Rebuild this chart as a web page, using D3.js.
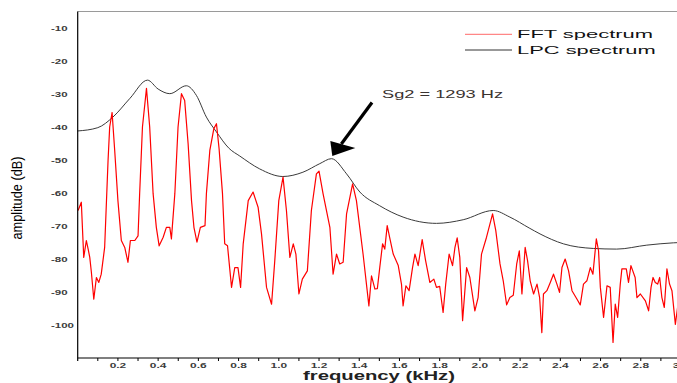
<!DOCTYPE html>
<html>
<head>
<meta charset="utf-8">
<script src="https://cdn.jsdelivr.net/npm/d3@7/dist/d3.min.js"></script>
<style>
  html, body { margin: 0; padding: 0; background: #fff; }
  svg { display: block; }
  text { font-family: "Liberation Sans", Arial, sans-serif; }
</style>
</head>
<body>
<svg id="chart" width="677" height="383"></svg>
<script>
// ---- data ----
const fftFreq = [0.002,0.018,0.03,0.043,0.052,0.06,0.068,0.08,0.093,0.105,0.117,0.134,0.151,0.159,0.171,0.184,0.2,0.217,0.234,0.25,0.262,0.284,0.3,0.308,0.322,0.342,0.358,0.375,0.391,0.405,0.425,0.441,0.458,0.466,0.483,0.499,0.516,0.532,0.549,0.566,0.578,0.593,0.61,0.633,0.64,0.657,0.677,0.69,0.703,0.72,0.731,0.745,0.765,0.781,0.797,0.81,0.823,0.848,0.872,0.897,0.914,0.939,0.964,0.98,1.0,1.021,1.038,1.055,1.072,1.085,1.1,1.117,1.142,1.162,1.187,1.2,1.22,1.254,1.27,1.287,1.303,1.32,1.337,1.367,1.386,1.419,1.448,1.461,1.478,1.49,1.502,1.516,1.527,1.539,1.553,1.569,1.594,1.61,1.618,1.632,1.648,1.665,1.677,1.693,1.713,1.73,1.751,1.771,1.784,1.8,1.817,1.83,1.847,1.864,1.876,1.887,1.9,1.914,1.934,1.95,1.975,1.991,2.008,2.033,2.063,2.079,2.1,2.116,2.133,2.149,2.166,2.183,2.196,2.209,2.225,2.237,2.25,2.267,2.284,2.297,2.308,2.316,2.333,2.35,2.366,2.383,2.396,2.408,2.424,2.441,2.458,2.483,2.499,2.515,2.532,2.549,2.562,2.579,2.59,2.599,2.615,2.632,2.648,2.662,2.673,2.685,2.698,2.706,2.728,2.739,2.751,2.772,2.781,2.798,2.823,2.839,2.851,2.861,2.872,2.884,2.894,2.905,2.917,2.93,2.943,2.955,2.972,2.985];
const fftDb = [-65.3,-62.8,-79.5,-74.4,-77,-79.5,-84,-92.2,-85.6,-87.1,-84.6,-76.5,-50.1,-40,-35.6,-47.1,-62.3,-74.4,-76.5,-81,-74.4,-74.4,-73,-60.2,-40,-28.3,-40,-60.2,-70.4,-76,-73.4,-70.4,-70.4,-73.9,-60.2,-40,-29.9,-32,-45,-62.3,-70.4,-74.9,-70.4,-69.9,-60.2,-47.1,-40.5,-39,-46.5,-60.2,-75.4,-76,-88.6,-82.6,-82.6,-88.6,-75.4,-62.3,-59.7,-64.3,-72.4,-88.6,-93.7,-80.5,-62.3,-55.2,-65.3,-79.5,-75.4,-78.5,-90.6,-86.1,-83.6,-65.3,-54.2,-53.4,-60.2,-70.4,-84.6,-78.5,-81.5,-81,-66.3,-57.2,-62.3,-78.5,-94.2,-85.1,-89.1,-89,-82.6,-75.4,-77,-69.9,-74,-78.5,-82,-87.6,-94.2,-88.1,-89.6,-82.6,-78.5,-82,-74.1,-80.5,-87.1,-86.1,-88.6,-88.3,-96.2,-87.6,-78.5,-82,-76.5,-73.6,-79.5,-98.7,-82.6,-85.6,-95.7,-91.7,-78.5,-73.4,-66.3,-71.4,-81.5,-86.6,-93.9,-91.7,-91,-81.5,-77.5,-90.6,-76.5,-80.5,-86.6,-90.6,-87.6,-91.7,-102.3,-90.6,-89.6,-87.1,-84.6,-87.6,-90.1,-82.6,-80,-83.6,-89.6,-92.2,-93.9,-87.6,-86.6,-82.6,-84.6,-73.9,-77.5,-88.6,-97.7,-88.1,-88.6,-105.3,-93.7,-97.7,-87.6,-83,-83,-87.1,-82,-85.6,-91.7,-90.6,-92.7,-95.7,-88.6,-85.6,-87.1,-87.6,-85.6,-91.7,-94.7,-83,-87.6,-89.6,-99.8,-93.7];

const lpcFreq = [0,0.1,0.175,0.26,0.347,0.4,0.458,0.54,0.59,0.64,0.69,0.753,0.806,0.905,1.02,1.12,1.204,1.262,1.337,1.403,1.5,1.618,1.784,1.917,2.066,2.149,2.245,2.299,2.415,2.564,2.68,2.83,2.962,3.0];
const lpcDb = [-41.2,-40.2,-37,-31.3,-25.8,-28.5,-29.9,-27.5,-30.4,-37,-41.5,-46.5,-48.8,-52.7,-55,-53.7,-51.1,-49.6,-54.2,-59.7,-63.8,-67.3,-69.2,-68.1,-65.3,-67.3,-70.6,-72.4,-75.4,-76.8,-77,-75.8,-75.1,-75];

const yTicks = [-10,-20,-30,-40,-50,-60,-70,-80,-90,-100];
const xMinorTicks = d3.range(1, 31).map(i => i / 10);
const xLabelTicks = d3.range(1, 16).map(i => i / 5);
const seriesNames = ["FFT spectrum", "LPC spectrum"];
const annotation = { label: "Sg2 = 1293 Hz", freq: 1.276, db: -49.4 };
const xTitle = "frequency (kHz)";
const yTitle = "amplitude (dB)";

// ---- scales ----
const svg = d3.select("#chart");
const x = d3.scaleLinear().domain([0, 3.0]).range([77.7, 681]);
const y = d3.scaleLinear().domain([-110, -5]).range([358, 11.5]);

function stretch(sel, f) {
  sel.each(function () {
    const w = this.getComputedTextLength();
    d3.select(this).attr("textLength", w * f).attr("lengthAdjust", "spacingAndGlyphs");
  });
}

// top border
svg.append("line").attr("x1", x(0)).attr("x2", 677).attr("y1", y(-5)).attr("y2", y(-5))
  .attr("stroke", "#9a9a9a").attr("stroke-width", 1);

// curves
const fftData = fftFreq.map((f, i) => [f, fftDb[i]]);
const lpcData = lpcFreq.map((f, i) => [f, lpcDb[i]]);

svg.append("path").datum(lpcData)
  .attr("fill", "none").attr("stroke", "#3a3a3a").attr("stroke-width", 1)
  .attr("d", d3.line().x(d => x(d[0])).y(d => y(d[1])).curve(d3.curveMonotoneX));

svg.append("path").datum(fftData)
  .attr("fill", "none").attr("stroke", "#ff0000").attr("stroke-width", 1.2)
  .attr("stroke-linejoin", "round")
  .attr("d", d3.line().x(d => x(d[0])).y(d => y(d[1])));

// axes lines
svg.append("line").attr("x1", x(0)).attr("x2", x(0)).attr("y1", y(-5)).attr("y2", y(-110) + 3)
  .attr("stroke", "#000").attr("stroke-width", 1.2);
svg.append("line").attr("x1", x(0)).attr("x2", 677).attr("y1", y(-110)).attr("y2", y(-110))
  .attr("stroke", "#000").attr("stroke-width", 1.2);

// x ticks
svg.selectAll(".xt").data(xMinorTicks).enter().append("line")
  .attr("x1", d => x(d)).attr("x2", d => x(d))
  .attr("y1", y(-110)).attr("y2", y(-110) + 3)
  .attr("stroke", "#000").attr("stroke-width", 1);

svg.selectAll(".xl").data(xLabelTicks).enter().append("text")
  .attr("x", d => x(d)).attr("y", 367.5)
  .attr("text-anchor", "middle")
  .attr("font-size", 7).attr("font-weight", "bold").attr("fill", "#3c3c3c")
  .text(d => d3.format(".1f")(d))
  .call(stretch, 1.7);

// y tick labels
svg.selectAll(".yl").data(yTicks).enter().append("text")
  .attr("x", 51).attr("y", d => y(d) + 2.6)
  .attr("font-size", 7).attr("font-weight", "bold").attr("fill", "#3c3c3c")
  .text(d => d)
  .call(stretch, 1.64);

// axis titles
svg.append("text").attr("x", 379).attr("y", 380.3).attr("text-anchor", "middle")
  .attr("font-size", 12).attr("font-weight", "bold").attr("fill", "#222")
  .text(xTitle).attr("textLength", 152).attr("lengthAdjust", "spacingAndGlyphs");

svg.append("text").attr("transform", "translate(21.5,198) scale(1.12,1) rotate(-90)")
  .attr("text-anchor", "middle").attr("font-size", 12.5).attr("fill", "#000")
  .text(yTitle).attr("textLength", 83).attr("lengthAdjust", "spacingAndGlyphs");

// legend
const legColors = ["#ff6a6a", "#333"];
const legWidths = [136, 138.7];
seriesNames.forEach((n, i) => {
  const yy = 34.3 + i * 15.7;
  svg.append("line").attr("x1", 465).attr("x2", 512).attr("y1", yy).attr("y2", yy)
    .attr("stroke", legColors[i]).attr("stroke-width", 1);
  svg.append("text").attr("x", 517).attr("y", yy + 4)
    .attr("font-size", 11.5).attr("fill", "#111")
    .text(n).attr("textLength", legWidths[i]).attr("lengthAdjust", "spacingAndGlyphs");
});

// annotation
svg.append("text").attr("x", 382).attr("y", 97.5)
  .attr("font-size", 10.5).attr("fill", "#3a3330")
  .text(annotation.label).attr("textLength", 121).attr("lengthAdjust", "spacingAndGlyphs");

const tipX = x(annotation.freq) - 2, tipY = y(annotation.db) - 2;
svg.append("line").attr("x1", 372).attr("y1", 102.5).attr("x2", tipX + 9).attr("y2", tipY - 12)
  .attr("stroke", "#000").attr("stroke-width", 3.2);
svg.append("path")
  .attr("d", `M${tipX},${tipY} L${tipX - 2},${tipY - 15} L${tipX + 23},${tipY - 8} Z`)
  .attr("fill", "#000");
</script>
</body>
</html>
